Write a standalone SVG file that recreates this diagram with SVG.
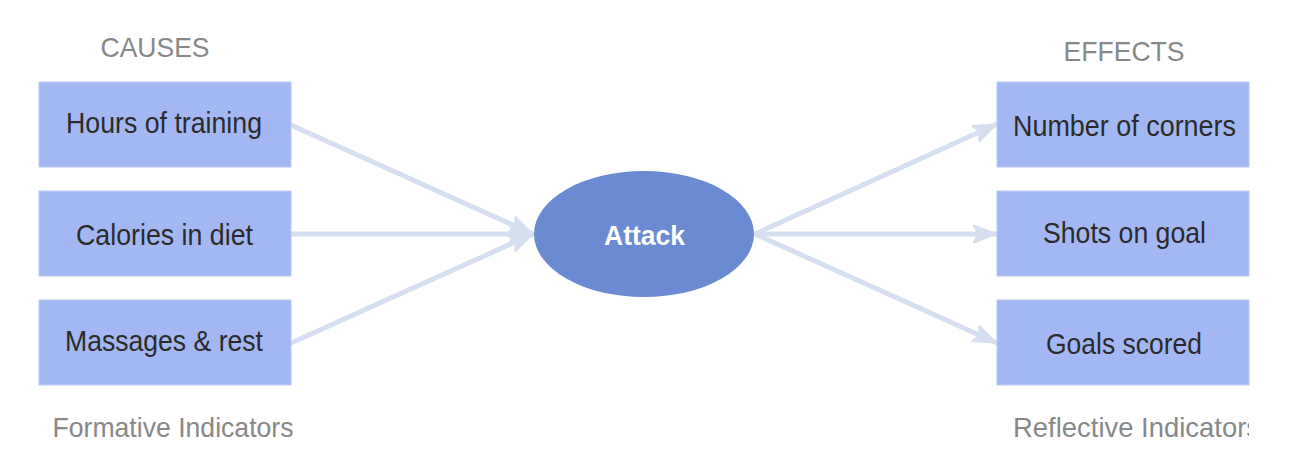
<svg xmlns="http://www.w3.org/2000/svg" width="1298" height="470" viewBox="0 0 1298 470">
<style>
.box{fill:#a3b8f3;stroke:#b9c9f6;stroke-width:1}
.lbl{font-family:"Liberation Sans",Arial,sans-serif;font-size:29px;fill:#2b2b2b;text-anchor:middle}
.cap{font-family:"Liberation Sans",Arial,sans-serif;font-size:28px;fill:#888888;text-anchor:middle}
.edge{stroke:#d6dff0;stroke-width:5;fill:none;stroke-linecap:round}
.hub{fill:#6a8bd1}
.hubt{font-family:"Liberation Sans",Arial,sans-serif;font-size:28px;font-weight:bold;fill:#ffffff;text-anchor:middle}
</style>
<defs>
<marker id="ah" markerUnits="userSpaceOnUse" markerWidth="26" markerHeight="20" refX="24" refY="10" orient="auto">
<path d="M0,1 L24,10 L0,19 L5,10 Z" fill="#d6dff0" stroke="#d6dff0" stroke-width="1.5" stroke-linejoin="round"/>
</marker>
<clipPath id="clipR"><rect x="990" y="400" width="259" height="60"/></clipPath>
</defs>
<g id="captions">
<text class="cap" x="155" y="57" textLength="109" lengthAdjust="spacingAndGlyphs">CAUSES</text>
<text class="cap" x="1124" y="61" textLength="121" lengthAdjust="spacingAndGlyphs">EFFECTS</text>
<text class="cap" x="173" y="437" textLength="241" lengthAdjust="spacingAndGlyphs">Formative Indicators</text>
<text class="cap" x="1013" y="437" style="text-anchor:start" textLength="247" lengthAdjust="spacingAndGlyphs" clip-path="url(#clipR)">Reflective Indicators</text>
</g>
<g id="connectors">
<line class="edge" x1="291" y1="125" x2="533" y2="234" marker-end="url(#ah)"/>
<line class="edge" x1="291" y1="234" x2="533" y2="234" marker-end="url(#ah)"/>
<line class="edge" x1="291" y1="343" x2="533" y2="234" marker-end="url(#ah)"/>
<line class="edge" x1="755" y1="234" x2="997" y2="124" marker-end="url(#ah)"/>
<line class="edge" x1="755" y1="234" x2="997" y2="234" marker-end="url(#ah)"/>
<line class="edge" x1="755" y1="234" x2="997" y2="343" marker-end="url(#ah)"/>
</g>
<g id="n-hours"><rect class="box" x="39" y="82" width="252" height="85"/><text class="lbl" x="164" y="133" textLength="196" lengthAdjust="spacingAndGlyphs">Hours of training</text></g>
<g id="n-calories"><rect class="box" x="39" y="191" width="252" height="85"/><text class="lbl" x="164.5" y="245" textLength="177" lengthAdjust="spacingAndGlyphs">Calories in diet</text></g>
<g id="n-massages"><rect class="box" x="39" y="300" width="252" height="85"/><text class="lbl" x="164" y="351" textLength="198" lengthAdjust="spacingAndGlyphs">Massages &amp; rest</text></g>
<g id="n-attack"><ellipse class="hub" cx="644" cy="234" rx="110" ry="63"/><text class="hubt" x="644.5" y="245" textLength="81" lengthAdjust="spacingAndGlyphs">Attack</text></g>
<g id="n-corners"><rect class="box" x="997" y="82" width="252" height="85"/><text class="lbl" x="1124.5" y="136" textLength="223" lengthAdjust="spacingAndGlyphs">Number of corners</text></g>
<g id="n-shots"><rect class="box" x="997" y="191" width="252" height="85"/><text class="lbl" x="1124.5" y="243" textLength="163" lengthAdjust="spacingAndGlyphs">Shots on goal</text></g>
<g id="n-goals"><rect class="box" x="997" y="300" width="252" height="85"/><text class="lbl" x="1124" y="354" textLength="156" lengthAdjust="spacingAndGlyphs">Goals scored</text></g>
</svg>
